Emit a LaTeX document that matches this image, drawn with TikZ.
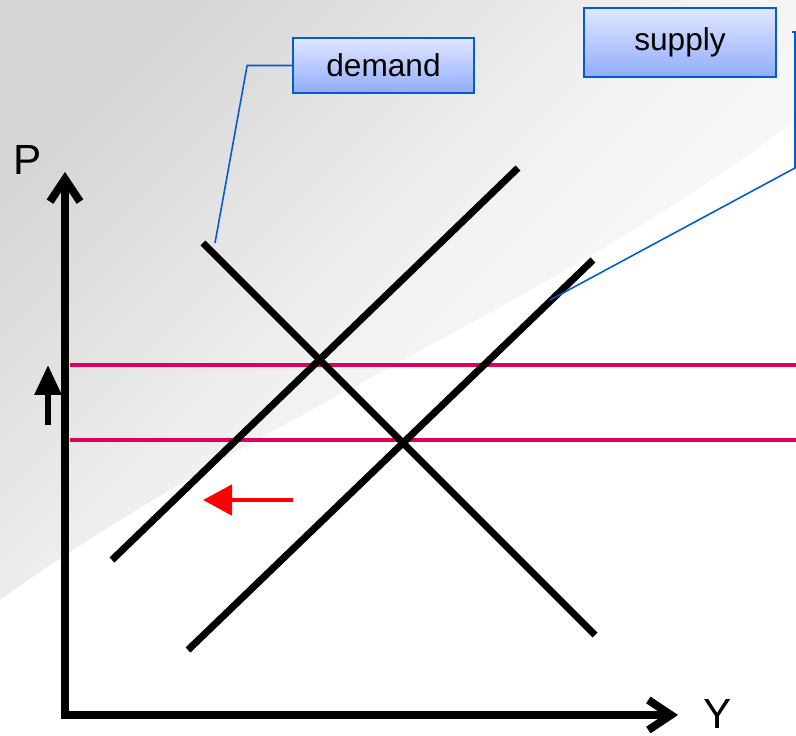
\documentclass[tikz,border=0pt]{standalone}
\usepackage{fontspec}
\setmainfont{Liberation Sans}
\definecolor{ShadeGrey}{RGB}{214,214,214}
\definecolor{BoxTop}{RGB}{224,231,255}
\definecolor{BoxBottom}{RGB}{145,172,250}
\definecolor{CallBlue}{RGB}{0,92,210}
\definecolor{LevelRed}{RGB}{222,0,90}
\usetikzlibrary{arrows.meta}

\tikzset{
  curveline/.style={line width=4pt},
  levelline/.style={LevelRed, line width=2.8pt},
  axisline/.style={line width=4.5pt, line cap=round, line join=miter},
  labelbox/.style={draw=CallBlue, line width=1pt, top color=BoxTop, bottom color=BoxBottom,
    font=\fontsize{18}{22}\selectfont},
  callout/.style={CallBlue, line width=0.9pt},
}

\begin{document}
\begin{tikzpicture}[x=0.2mm, y=-0.2mm]
  \useasboundingbox (0,0) rectangle (796,736);
  %% background
  \fill[white] (0,0) rectangle (796,736);
  \shade[top color=ShadeGrey, bottom color=white, middle color=ShadeGrey!32!white, shading angle=45]
    (0,0) -- (796,0) -- (796,120) .. controls (560,300) and (250,420) .. (0,600) -- cycle;
  %% price levels
  \draw[levelline] (70,365) -- (796,365);
  \draw[levelline] (70,440) -- (796,440);
  %% demand and supply
  \coordinate (dtop) at (203,243);
  \coordinate (dbot) at (595,635);
  \coordinate (sonebot) at (112,560);
  \coordinate (sonetop) at (518,168);
  \coordinate (stwobot) at (188,650);
  \coordinate (stwotop) at (593,260);
  \draw[curveline] (dtop) -- (dbot);
  \draw[curveline] (sonebot) -- (sonetop);
  \draw[curveline] (stwobot) -- (stwotop);
  %% axes
  \draw[axisline, {Straight Barb[length=4.5mm, width=6mm]}-{Straight Barb[length=4.5mm, width=6mm]}]
    (65,172) -- (65,715) -- (678,715);
  \node[font=\fontsize{24}{28}\selectfont] (plabel) at (28,160) {P};
  \node[font=\fontsize{24}{28}\selectfont] (ylabel) at (718,714) {Y};
  %% shifts
  \coordinate (upfrom) at (48,425);
  \coordinate (upto) at (48,365);
  \draw[line width=3.4pt, -{Triangle[length=6mm, width=5.2mm]}] (upfrom) -- (upto);
  \coordinate (leftfrom) at (293,500);
  \coordinate (leftto) at (203,500);
  \draw[red, line width=2.8pt, -{Triangle[length=5.8mm, width=6mm]}] (leftfrom) -- (leftto);
  %% labels
  \node[labelbox, minimum width=3.62cm, minimum height=1.1cm] (demandbox) at (383.5,65.5) {demand};
  \node[labelbox, minimum width=3.84cm, minimum height=1.38cm] (supplybox) at (680,42.5) {supply};
  \coordinate (dtag) at (215,243);
  \draw[callout] (demandbox.west) -- ++(-45,0) -- (dtag);
  \coordinate (sstart) at (792,32);
  \coordinate (sknee) at (795,168);
  \coordinate (stag) at (550,300);
  \draw[callout] (sstart) -- (sstart -| sknee) -- (sknee) -- (stag);
\end{tikzpicture}
\end{document}
